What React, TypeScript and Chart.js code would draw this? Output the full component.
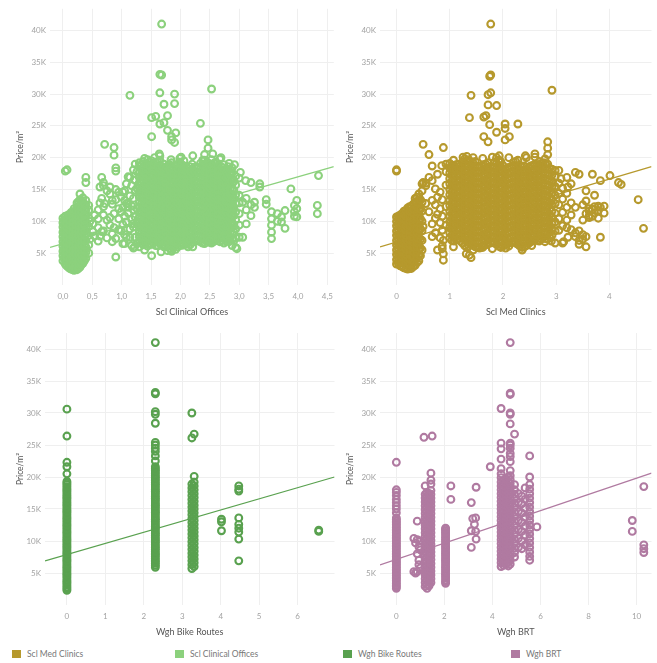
import { useEffect, useRef } from "react";
import { Chart, registerables } from "chart.js";

Chart.register(...registerables);

type Col = [number, number[]];

// ---------- DATA (price in thousands per m²) ----------
const clinicalOfficesColumns: Col[] = [
  [0.0, [3.8, 4.6, 5.3, 6.1, 6.8, 7.6, 8.3, 9.1, 9.8, 10.5]],
  [0.04, [3.3, 4.0, 4.8, 5.6, 6.3, 7.1, 7.8, 8.6, 9.3, 10.1, 10.8, 17.9]],
  [0.07, [18.1]],
  [0.09, [2.8, 3.5, 4.3, 5.1, 5.8, 6.6, 7.3, 8.1, 8.8, 9.6, 10.3, 11.0]],
  [0.14, [2.5, 3.2, 4.0, 4.7, 5.5, 6.2, 7.0, 7.8, 8.5, 9.2, 10.0, 10.7, 11.4]],
  [0.19, [2.3, 3.0, 3.8, 4.5, 5.3, 6.0, 6.8, 7.5, 8.3, 9.0, 9.8, 10.5, 11.3, 12.0]],
  [0.24, [2.4, 3.1, 3.9, 4.6, 5.4, 6.1, 6.9, 7.6, 8.4, 9.1, 9.9, 10.6, 11.4, 12.2, 12.9]],
  [0.29, [2.8, 3.6, 4.3, 5.1, 5.8, 6.6, 7.3, 8.1, 8.8, 9.6, 10.3, 11.1, 11.8, 12.6, 13.4, 14.3]],
  [0.34, [3.4, 4.2, 5.0, 5.8, 6.6, 7.4, 8.2, 9.0, 9.8, 10.6, 11.4, 12.2, 13.0, 13.7]],
  [0.39, [4.2, 5.1, 6.0, 7.0, 8.0, 9.0, 10.0, 10.9, 11.8, 12.6, 13.3, 16.1, 16.9]],
  [0.44, [5.0, 6.3, 7.8, 9.2, 10.5, 11.8, 12.5]],
  [0.46, [10.0, 7.2]],
  [0.51, [8.4, 9.6]],
  [0.54, [7.7, 11.0]],
  [0.6, [9.0, 11.8, 10.4, 6.9]],
  [0.63, [15.4, 7.7, 12.9]],
  [0.66, [16.9, 13.6, 8.4]],
  [0.69, [16.1, 15.6, 12.3, 8.5, 11.0]],
  [0.71, [22.1, 12.8]],
  [0.75, [10.2, 7.4, 14.8]],
  [0.8, [10.6, 15.4, 14.3, 9.4]],
  [0.84, [13.3, 12.7, 8.0, 6.8]],
  [0.87, [21.6, 20.4, 9.0, 11.2]],
  [0.9, [18.4, 17.9, 7.3, 4.4, 13.4, 15.0]],
  [0.95, [10.4, 12.0, 8.7, 14.6]],
  [0.99, [8.5, 13.9, 11.5]],
  [1.02, [9.5, 14.6, 6.5, 12.2]],
  [1.05, [13.3, 10.8, 7.9]],
  [1.08, [7.5, 12.8, 15.9, 9.9]],
  [1.11, [12.8, 11.3, 17.0]],
  [1.14, [16.9, 8.8, 14.0, 29.8]],
  [1.17, [15.6, 10.3, 12.4, 6.2]],
  [1.2, [11.8, 18.1, 13.6, 9.1, 5.8]],
  [1.23, [10.7, 7.5, 14.9, 16.5, 19.0]],
  [1.26, [6.5, 12.0, 17.8, 9.6, 15.2]],
  [1.3, [6.0, 6.9, 7.6, 8.4, 9.1, 9.9, 10.7, 11.4, 12.2, 13.0, 13.8, 14.5, 15.3, 16.1, 16.9, 17.7, 18.6, 19.2]],
  [1.37, [6.3, 7.1, 7.9, 8.6, 9.4, 10.2, 10.9, 11.7, 12.5, 13.2, 14.0, 14.8, 15.5, 16.3, 17.1, 17.8, 18.6, 19.4]],
  [1.44, [6.1, 6.8, 7.6, 8.3, 9.1, 9.9, 10.6, 11.4, 12.1, 12.9, 13.7, 14.4, 15.2, 16.0, 16.7, 17.5, 18.3, 19.0, 19.7]],
  [1.51, [4.6, 6.4, 7.2, 7.9, 8.7, 9.5, 10.2, 11.0, 11.8, 12.5, 13.3, 14.1, 14.8, 15.6, 16.4, 17.1, 17.9, 18.7, 19.5, 23.3, 26.3]],
  [1.58, [6.2, 7.0, 7.8, 8.5, 9.3, 10.0, 10.8, 11.6, 12.3, 13.1, 13.9, 14.6, 15.4, 16.2, 16.9, 17.7, 18.5, 19.3, 26.5]],
  [1.65, [6.5, 7.3, 8.0, 8.8, 9.6, 10.3, 11.1, 11.9, 12.6, 13.4, 14.2, 14.9, 15.7, 16.5, 17.2, 18.0, 18.8, 19.6, 20.3, 25.3, 30.2, 33.1]],
  [1.68, [33.0, 41.0]],
  [1.72, [6.0, 6.7, 7.5, 8.3, 9.0, 9.8, 10.6, 11.3, 12.1, 12.9, 13.6, 14.4, 15.2, 15.9, 16.7, 17.5, 18.2, 19.0, 25.5, 28.4]],
  [1.78, [5.4, 6.4, 7.2, 7.9, 8.7, 9.5, 10.2, 11.0, 11.8, 12.5, 13.3, 14.1, 14.8, 15.6, 16.4, 17.1, 17.9, 18.7, 24.3, 26.6]],
  [1.85, [5.3, 6.1, 6.9, 7.7, 8.4, 9.2, 10.0, 10.7, 11.5, 12.3, 13.0, 13.8, 14.6, 15.3, 16.1, 16.9, 17.6, 18.4, 19.2, 23.3, 22.8]],
  [1.9, [28.5, 30.0, 22.4]],
  [1.92, [5.6, 6.5, 7.3, 8.1, 8.8, 9.6, 10.4, 11.1, 11.9, 12.7, 13.4, 14.2, 15.0, 15.7, 16.5, 17.3, 18.0, 18.8, 23.9]],
  [1.99, [6.2, 7.0, 7.8, 8.6, 9.3, 10.1, 10.9, 11.6, 12.4, 13.2, 13.9, 14.7, 15.5, 16.2, 17.0, 17.8, 18.5, 19.3, 19.9]],
  [2.06, [6.4, 7.2, 8.0, 8.7, 9.5, 10.3, 11.0, 11.8, 12.6, 13.3, 14.1, 14.9, 15.6, 16.4, 17.2, 17.9, 18.7, 19.5]],
  [2.13, [6.0, 6.8, 7.6, 8.3, 9.1, 9.9, 10.6, 11.4, 12.2, 12.9, 13.7, 14.5, 15.2, 16.0, 16.8, 17.5, 18.3]],
  [2.2, [6.7, 7.5, 8.2, 9.0, 9.8, 10.5, 11.3, 12.1, 12.8, 13.6, 14.4, 15.1, 15.9, 16.7, 17.4, 18.2, 19.0]],
  [2.27, [7.0, 7.8, 8.5, 9.3, 10.1, 10.8, 11.6, 12.4, 13.1, 13.9, 14.7, 15.4, 16.2, 17.0, 17.7, 18.5]],
  [2.34, [6.8, 7.6, 8.4, 9.1, 9.9, 10.7, 11.4, 12.2, 13.0, 13.7, 14.5, 15.3, 16.0, 16.8, 17.6, 18.3, 19.1, 25.4]],
  [2.41, [6.5, 7.3, 8.1, 8.8, 9.6, 10.4, 11.1, 11.9, 12.7, 13.4, 14.2, 15.0, 15.7, 16.5, 17.3, 18.0, 18.8, 19.6, 20.5]],
  [2.47, [6.9, 7.7, 8.4, 9.2, 10.0, 10.7, 11.5, 12.3, 13.0, 13.8, 14.6, 15.3, 16.1, 16.9, 17.6, 18.4, 19.2, 21.5, 22.8]],
  [2.53, [6.6, 7.4, 8.2, 8.9, 9.7, 10.5, 11.2, 12.0, 12.8, 13.5, 14.3, 15.1, 15.8, 16.6, 17.4, 18.1, 18.9, 19.7, 30.8]],
  [2.6, [7.0, 7.8, 8.6, 9.3, 10.1, 10.9, 11.6, 12.4, 13.2, 13.9, 14.7, 15.5, 16.2, 17.0, 17.8, 18.5, 19.3]],
  [2.67, [6.8, 7.6, 8.3, 9.1, 9.9, 10.6, 11.4, 12.2, 12.9, 13.7, 14.5, 15.2, 16.0, 16.8, 17.5, 18.3, 19.8]],
  [2.74, [6.6, 7.4, 8.2, 8.9, 9.7, 10.5, 11.2, 12.0, 12.8, 13.5, 14.3, 15.1, 15.8, 16.6, 17.4, 18.1, 18.9]],
  [2.81, [7.1, 7.9, 8.7, 9.4, 10.2, 11.0, 11.7, 12.5, 13.3, 14.0, 14.8, 15.6, 16.3, 17.1, 17.9, 18.6]],
  [2.88, [6.2, 7.2, 8.1, 9.0, 9.8, 10.7, 11.6, 12.4, 13.3, 14.1, 15.0, 15.9, 16.7, 17.6, 18.4]],
  [2.94, [5.9, 7.4, 8.8, 10.2, 11.5, 12.8, 14.2, 15.7, 17.1]],
  [3.0, [7.5, 9.4, 11.2, 12.9, 14.1, 16.8]],
  [3.06, [7.5, 13.0]],
  [3.12, [11.8, 13.6, 9.6]],
  [3.2, [12.6, 10.9, 16.1]],
  [3.26, [13.0, 12.2]],
  [3.35, [15.9, 15.4]],
  [3.46, [13.4, 12.7]],
  [3.55, [11.5, 10.4, 9.4, 8.3, 7.3]],
  [3.65, [11.2, 10.0]],
  [3.72, [10.7, 9.9]],
  [3.78, [11.7, 8.9]],
  [3.88, [15.1]],
  [3.94, [12.5, 11.5, 10.8]],
  [3.98, [13.3, 10.7, 12.0]],
  [4.33, [12.5, 11.2]],
  [4.35, [17.2]],
];

// the packed cores of the three clusters, read between the columns above
const clinicalOfficesCoreColumns: Col[] = [
  [0.02, [4.2, 5.0, 5.7, 6.5, 7.2, 8.0, 8.7, 9.5, 10.2]],
  [0.065, [3.0, 3.7, 4.4, 5.2, 5.9, 6.7, 7.5, 8.2, 9.0, 9.7, 10.4]],
  [0.115, [2.6, 3.4, 4.1, 4.9, 5.6, 6.4, 7.1, 7.9, 8.6, 9.4, 10.1, 10.9]],
  [0.165, [2.4, 3.1, 3.9, 4.6, 5.4, 6.1, 6.9, 7.6, 8.4, 9.1, 9.9, 10.6, 11.5]],
  [0.215, [2.6, 3.4, 4.1, 4.9, 5.6, 6.4, 7.2, 7.9, 8.7, 9.4, 10.2, 10.9, 11.7]],
  [0.265, [2.6, 3.3, 4.0, 4.8, 5.5, 6.3, 7.0, 7.8, 8.5, 9.3, 10.0, 10.8, 11.5, 12.3, 13.1]],
  [0.315, [3.2, 4.0, 4.7, 5.5, 6.2, 7.0, 7.7, 8.5, 9.2, 10.0, 10.7, 11.5, 12.2, 13.0]],
  [0.365, [3.8, 4.6, 5.4, 6.2, 7.0, 7.8, 8.6, 9.4, 10.2, 11.0, 11.8, 12.6]],
  [1.335, [6.6, 7.4, 8.2, 9.0, 9.7, 10.5, 11.3, 12.0, 12.8, 13.6, 14.3, 15.1, 15.9, 16.6, 17.4, 18.2, 18.9]],
  [1.405, [6.7, 7.5, 8.3, 9.0, 9.8, 10.6, 11.3, 12.1, 12.9, 13.6, 14.4, 15.2, 15.9, 16.7, 17.5, 18.2, 19.0]],
  [1.475, [6.4, 7.2, 8.0, 8.7, 9.5, 10.3, 11.0, 11.8, 12.6, 13.3, 14.1, 14.9, 15.6, 16.4, 17.2, 17.9, 18.7, 19.3]],
  [1.545, [6.6, 7.4, 8.2, 8.9, 9.7, 10.5, 11.2, 12.0, 12.8, 13.5, 14.3, 15.1, 15.8, 16.6, 17.4, 18.1, 18.9]],
  [1.615, [6.2, 7.0, 7.8, 8.5, 9.3, 10.1, 10.8, 11.6, 12.4, 13.1, 13.9, 14.7, 15.4, 16.2, 17.0, 17.7, 18.5, 19.3]],
  [1.685, [6.3, 7.1, 7.9, 8.6, 9.4, 10.2, 10.9, 11.7, 12.5, 13.2, 14.0, 14.8, 15.5, 16.3, 17.1, 17.8, 18.6]],
  [1.75, [6.0, 6.8, 7.6, 8.3, 9.1, 9.9, 10.6, 11.4, 12.2, 12.9, 13.7, 14.5, 15.2, 16.0, 16.8, 17.5, 18.3]],
  [1.815, [5.8, 6.6, 7.4, 8.1, 8.9, 9.7, 10.4, 11.2, 12.0, 12.7, 13.5, 14.3, 15.0, 15.8, 16.6, 17.3, 18.1, 18.9]],
  [1.885, [6.0, 6.8, 7.5, 8.3, 9.1, 9.8, 10.6, 11.4, 12.1, 12.9, 13.7, 14.4, 15.2, 16.0, 16.7, 17.5, 18.3]],
  [1.955, [6.0, 6.8, 7.6, 8.3, 9.1, 9.9, 10.6, 11.4, 12.2, 12.9, 13.7, 14.5, 15.2, 16.0, 16.8, 17.5, 18.3, 19.0]],
  [2.025, [6.6, 7.4, 8.2, 9.0, 9.7, 10.5, 11.3, 12.0, 12.8, 13.6, 14.3, 15.1, 15.9, 16.6, 17.4, 18.2, 18.9]],
  [2.095, [6.4, 7.2, 7.9, 8.7, 9.5, 10.2, 11.0, 11.8, 12.5, 13.3, 14.1, 14.8, 15.6, 16.4, 17.1, 17.9, 18.6]],
  [2.165, [6.3, 7.1, 7.9, 8.6, 9.4, 10.2, 10.9, 11.7, 12.5, 13.2, 14.0, 14.8, 15.5, 16.3, 17.1, 17.8, 18.6]],
  [2.235, [7.0, 7.8, 8.6, 9.3, 10.1, 10.9, 11.6, 12.4, 13.2, 13.9, 14.7, 15.5, 16.2, 17.0, 17.8, 18.5]],
  [2.305, [6.9, 7.7, 8.5, 9.2, 10.0, 10.8, 11.5, 12.3, 13.1, 13.8, 14.6, 15.4, 16.1, 16.9, 17.7, 18.4]],
  [2.375, [6.6, 7.4, 8.2, 8.9, 9.7, 10.5, 11.2, 12.0, 12.8, 13.5, 14.3, 15.1, 15.8, 16.6, 17.4, 18.1, 18.9]],
  [2.44, [6.9, 7.7, 8.5, 9.2, 10.0, 10.8, 11.5, 12.3, 13.1, 13.8, 14.6, 15.4, 16.1, 16.9, 17.7, 18.4, 19.2]],
  [2.5, [6.7, 7.5, 8.3, 9.0, 9.8, 10.6, 11.3, 12.1, 12.9, 13.6, 14.4, 15.2, 15.9, 16.7, 17.5, 18.2, 19.0]],
  [2.565, [6.8, 7.6, 8.4, 9.1, 9.9, 10.7, 11.4, 12.2, 13.0, 13.7, 14.5, 15.3, 16.0, 16.8, 17.6, 18.3, 19.1]],
  [2.635, [7.2, 8.0, 8.8, 9.5, 10.3, 11.1, 11.8, 12.6, 13.4, 14.1, 14.9, 15.7, 16.4, 17.2, 18.0, 18.7]],
  [2.705, [7.0, 7.8, 8.6, 9.3, 10.1, 10.9, 11.6, 12.4, 13.2, 13.9, 14.7, 15.5, 16.2, 17.0, 17.8, 18.5]],
  [2.775, [6.9, 7.7, 8.5, 9.2, 10.0, 10.8, 11.5, 12.3, 13.1, 13.8, 14.6, 15.4, 16.1, 16.9, 17.7]],
  [2.845, [7.4, 8.2, 9.0, 9.7, 10.5, 11.3, 12.0, 12.8, 13.6, 14.3, 15.1, 15.9, 16.6, 17.4, 18.2]],
  [2.91, [7.0, 8.4, 9.5, 10.9, 12.1, 13.6, 14.9, 16.3]],
];

// loose circles along the ragged rims of the clusters
const clinicalOfficesEdgeColumns: Col[] = [
  [1.05, [14.8, 6.5]],
  [1.11, [12.2]],
  [1.14, [7.5]],
  [1.19, [9.6]],
  [1.22, [6.0]],
  [1.39, [19.9, 5.5]],
  [1.56, [20.0]],
  [1.64, [20.6]],
  [1.67, [5.2]],
  [1.84, [5.5, 19.7]],
  [2.01, [20.1]],
  [2.04, [6.25]],
  [2.21, [20.3, 6.0]],
  [2.38, [19.6]],
  [2.49, [7.0]],
  [2.55, [20.6]],
  [2.69, [20.0]],
  [2.83, [19.1, 6.8]],
  [2.92, [18.9]],
  [2.96, [5.7]],
  [3.02, [17.7]],
  [3.11, [16.4]],
];

const medClinicsColumns: Col[] = [
  [0.0, [3.3, 4.0, 4.8, 5.5, 6.3, 7.0, 7.8, 8.5, 9.3, 10.0, 10.7, 17.9, 18.1]],
  [0.07, [3.0, 3.7, 4.5, 5.2, 6.0, 6.7, 7.5, 8.2, 9.0, 9.7, 10.5, 11.0]],
  [0.14, [2.7, 3.4, 4.2, 4.9, 5.7, 6.4, 7.2, 7.9, 8.7, 9.4, 10.2, 10.9, 11.6]],
  [0.21, [2.5, 3.2, 4.0, 4.7, 5.5, 6.2, 7.0, 7.7, 8.5, 9.2, 10.0, 10.7, 11.5, 12.1]],
  [0.28, [2.6, 3.4, 4.1, 4.9, 5.6, 6.4, 7.1, 7.9, 8.6, 9.4, 10.1, 10.9, 11.6, 12.4]],
  [0.35, [3.1, 3.9, 4.7, 5.4, 6.2, 6.9, 7.7, 8.4, 9.2, 9.9, 10.7, 11.4, 12.2, 13.0, 13.6]],
  [0.42, [3.8, 4.7, 5.6, 6.5, 7.4, 8.3, 9.2, 10.1, 11.0, 11.9, 12.7, 13.4, 14.3]],
  [0.48, [5.5, 7.0, 8.5, 10.0, 11.6, 13.0, 14.8, 15.9]],
  [0.5, [22.1, 16.1, 9.2]],
  [0.55, [15.6, 16.0, 12.8]],
  [0.61, [20.5, 16.9, 11.5]],
  [0.67, [18.7, 16.4, 13.3, 9.6, 7.6]],
  [0.73, [15.1, 12.6, 10.5, 8.2]],
  [0.77, [17.4, 5.5, 13.8, 11.1]],
  [0.82, [14.6, 7.4, 9.8, 12.0]],
  [0.86, [8.6, 6.2, 5.7, 10.8, 13.4]],
  [0.88, [21.6, 7.0, 4.9, 3.9]],
  [0.93, [19.0, 17.8, 15.7, 12.3, 9.4]],
  [1.0, [7.4, 8.2, 9.1, 9.9, 10.8, 11.6, 12.5, 13.3, 14.2, 15.0, 15.9, 16.7, 17.6, 18.4, 19.1]],
  [1.08, [6.9, 7.7, 8.6, 9.4, 10.3, 11.1, 12.0, 12.8, 13.7, 14.5, 15.4, 16.2, 17.1, 17.9, 18.8]],
  [1.16, [7.2, 8.0, 8.9, 9.7, 10.6, 11.4, 12.3, 13.1, 14.0, 14.8, 15.7, 16.5, 17.4, 18.2, 19.0]],
  [1.24, [6.6, 7.5, 8.3, 9.2, 10.0, 10.9, 11.7, 12.6, 13.4, 14.3, 15.1, 16.0, 16.8, 17.7, 18.5, 19.3]],
  [1.32, [5.9, 6.8, 7.6, 8.5, 9.3, 10.2, 11.0, 11.9, 12.7, 13.6, 14.4, 15.3, 16.1, 17.0, 17.8, 18.7, 19.5, 20.2]],
  [1.37, [26.3, 4.7]],
  [1.4, [4.3, 6.3, 7.1, 8.0, 8.8, 9.7, 10.5, 11.4, 12.2, 13.1, 13.9, 14.8, 15.6, 16.5, 17.3, 18.2, 19.0, 29.8]],
  [1.48, [6.0, 6.8, 7.7, 8.5, 9.4, 10.2, 11.1, 11.9, 12.8, 13.6, 14.5, 15.3, 16.2, 17.0, 17.9, 18.7, 19.4]],
  [1.56, [5.8, 6.6, 7.5, 8.3, 9.2, 10.0, 10.9, 11.7, 12.6, 13.4, 14.3, 15.1, 16.0, 16.8, 17.7, 18.5]],
  [1.64, [6.2, 7.0, 7.9, 8.7, 9.6, 10.4, 11.3, 12.1, 13.0, 13.8, 14.7, 15.5, 16.4, 17.2, 18.1, 18.9, 23.3, 26.4]],
  [1.68, [26.6]],
  [1.72, [6.5, 7.3, 8.2, 9.0, 9.9, 10.7, 11.6, 12.4, 13.3, 14.1, 15.0, 15.8, 16.7, 17.5, 18.4, 19.2, 22.5, 28.3, 29.9]],
  [1.75, [25.2, 32.8]],
  [1.77, [41.0, 33.0, 30.2]],
  [1.8, [6.8, 7.6, 8.5, 9.3, 10.2, 11.0, 11.9, 12.7, 13.6, 14.4, 15.3, 16.1, 17.0, 17.8, 18.6]],
  [1.88, [6.4, 7.2, 8.1, 8.9, 9.8, 10.6, 11.5, 12.3, 13.2, 14.0, 14.9, 15.7, 16.6, 17.4, 18.3, 19.1, 20.0, 24.0, 28.2]],
  [1.96, [5.9, 6.7, 7.6, 8.4, 9.3, 10.1, 11.0, 11.8, 12.7, 13.5, 14.4, 15.2, 16.1, 16.9, 17.8, 18.6, 19.4]],
  [2.04, [6.3, 7.1, 8.0, 8.8, 9.7, 10.5, 11.4, 12.2, 13.1, 13.9, 14.8, 15.6, 16.5, 17.3, 18.2, 22.8, 24.6, 25.3]],
  [2.12, [6.6, 7.4, 8.3, 9.1, 10.0, 10.8, 11.7, 12.5, 13.4, 14.2, 15.1, 15.9, 16.8, 17.6, 18.5, 23.3]],
  [2.2, [6.9, 7.7, 8.6, 9.4, 10.3, 11.1, 12.0, 12.8, 13.7, 14.5, 15.4, 16.2, 17.1, 17.9, 18.8, 19.3]],
  [2.28, [6.4, 7.2, 8.1, 8.9, 9.8, 10.6, 11.5, 12.3, 13.2, 14.0, 14.9, 15.7, 16.6, 17.4, 18.3, 19.6, 25.3]],
  [2.36, [5.9, 6.7, 7.6, 8.4, 9.3, 10.1, 11.0, 11.8, 12.7, 13.5, 14.4, 15.2, 16.1, 16.9, 17.8, 18.6]],
  [2.44, [6.2, 7.0, 7.9, 8.7, 9.6, 10.4, 11.3, 12.1, 13.0, 13.8, 14.7, 15.5, 16.4, 17.2, 18.1, 20.0]],
  [2.52, [6.8, 7.6, 8.5, 9.3, 10.2, 11.0, 11.9, 12.7, 13.6, 14.4, 15.3, 16.1, 17.0, 17.8, 18.7]],
  [2.6, [7.1, 7.9, 8.8, 9.6, 10.5, 11.3, 12.2, 13.0, 13.9, 14.7, 15.6, 16.4, 17.3, 18.1, 19.0, 20.1]],
  [2.68, [6.9, 7.7, 8.6, 9.4, 10.3, 11.1, 12.0, 12.8, 13.7, 14.5, 15.4, 16.2, 17.1, 17.9, 18.8, 19.4]],
  [2.76, [7.5, 8.3, 9.2, 10.0, 10.9, 11.7, 12.6, 13.4, 14.3, 15.1, 16.0, 16.8, 17.7, 18.5, 19.2]],
  [2.84, [7.2, 8.0, 8.9, 9.7, 10.6, 11.4, 12.3, 13.1, 14.0, 14.8, 15.7, 16.5, 17.4, 18.2, 19.0, 20.5, 21.5, 22.5]],
  [2.92, [7.8, 8.8, 9.7, 10.7, 11.6, 12.6, 13.5, 14.5, 15.4, 16.4, 17.3, 18.2, 30.6]],
  [2.98, [6.6, 8.5, 9.9, 11.3, 12.8, 14.1, 15.5, 17.0, 18.0]],
  [3.05, [18.0, 8.6, 10.4, 12.6, 14.4, 16.0]],
  [3.12, [9.3, 11.4, 13.5, 15.2, 6.6]],
  [3.2, [10.2, 12.2, 14.4, 9.0, 16.9]],
  [3.28, [15.9, 12.9, 8.7, 11.0]],
  [3.36, [17.7, 7.6, 8.2, 12.2]],
  [3.43, [17.4, 7.0, 8.5, 6.4]],
  [3.5, [7.9, 7.2, 12.6, 10.2]],
  [3.56, [14.8, 13.2, 11.2, 6.0, 7.6]],
  [3.62, [10.6, 12.0, 10.9, 11.6]],
  [3.68, [17.4, 11.9, 10.8]],
  [3.72, [14.1, 11.3, 12.3]],
  [3.79, [12.4, 10.5, 11.7]],
  [3.83, [16.4, 7.5, 12.2]],
  [3.9, [11.3, 12.4]],
  [4.01, [17.2]],
  [4.17, [16.1]],
  [4.22, [15.8]],
  [4.54, [13.4]],
  [4.64, [8.9]],
];

const medClinicsCoreColumns: Col[] = [
  [0.035, [3.4, 4.2, 4.9, 5.7, 6.4, 7.2, 7.9, 8.7, 9.4, 10.2, 10.8]],
  [0.105, [2.9, 3.6, 4.4, 5.1, 5.9, 6.6, 7.4, 8.1, 8.9, 9.6, 10.4, 11.2]],
  [0.175, [2.6, 3.3, 4.1, 4.8, 5.6, 6.3, 7.1, 7.8, 8.6, 9.3, 10.1, 10.8, 11.7]],
  [0.245, [2.6, 3.3, 4.1, 4.8, 5.6, 6.3, 7.1, 7.8, 8.6, 9.3, 10.1, 10.8, 11.6, 12.3]],
  [0.315, [2.9, 3.7, 4.4, 5.2, 5.9, 6.7, 7.4, 8.2, 8.9, 9.7, 10.4, 11.2, 11.9, 12.7]],
  [0.385, [3.5, 4.3, 5.1, 5.9, 6.6, 7.4, 8.2, 9.0, 9.8, 10.6, 11.4, 12.2, 13.0, 13.8]],
  [0.45, [4.6, 5.8, 7.2, 8.8, 10.4, 11.9, 13.4]],
  [1.04, [7.0, 7.8, 8.7, 9.5, 10.4, 11.2, 12.1, 12.9, 13.8, 14.6, 15.5, 16.3, 17.2, 18.0, 18.8]],
  [1.12, [7.1, 7.9, 8.8, 9.6, 10.5, 11.3, 12.2, 13.0, 13.9, 14.7, 15.6, 16.4, 17.3, 18.1, 18.9]],
  [1.2, [6.9, 7.7, 8.6, 9.4, 10.3, 11.1, 12.0, 12.8, 13.7, 14.5, 15.4, 16.2, 17.1, 17.9, 18.7]],
  [1.28, [6.2, 7.1, 7.9, 8.8, 9.6, 10.5, 11.3, 12.2, 13.0, 13.9, 14.7, 15.6, 16.4, 17.3, 18.1, 18.9, 19.8]],
  [1.36, [6.1, 6.9, 7.8, 8.6, 9.5, 10.3, 11.2, 12.0, 12.9, 13.7, 14.6, 15.4, 16.3, 17.1, 18.0, 18.8, 19.7]],
  [1.44, [6.6, 7.4, 8.3, 9.1, 10.0, 10.8, 11.7, 12.5, 13.4, 14.2, 15.1, 15.9, 16.8, 17.6, 18.5, 19.2]],
  [1.52, [5.9, 6.7, 7.6, 8.4, 9.3, 10.1, 11.0, 11.8, 12.7, 13.5, 14.4, 15.2, 16.1, 16.9, 17.8, 18.6]],
  [1.6, [6.0, 6.8, 7.7, 8.5, 9.4, 10.2, 11.1, 11.9, 12.8, 13.6, 14.5, 15.3, 16.2, 17.0, 17.9, 18.7]],
  [1.68, [6.3, 7.1, 8.0, 8.8, 9.7, 10.5, 11.4, 12.2, 13.1, 13.9, 14.8, 15.6, 16.5, 17.3, 18.2, 19.0]],
  [1.76, [6.6, 7.4, 8.3, 9.1, 10.0, 10.8, 11.7, 12.5, 13.4, 14.2, 15.1, 15.9, 16.8, 17.6, 18.5]],
  [1.84, [6.6, 7.4, 8.3, 9.1, 10.0, 10.8, 11.7, 12.5, 13.4, 14.2, 15.1, 15.9, 16.8, 17.6, 18.5, 19.3]],
  [1.92, [6.1, 6.9, 7.8, 8.6, 9.5, 10.3, 11.2, 12.0, 12.9, 13.7, 14.6, 15.4, 16.3, 17.1, 18.0, 18.8, 19.6]],
  [2.0, [6.1, 6.9, 7.8, 8.6, 9.5, 10.3, 11.2, 12.0, 12.9, 13.7, 14.6, 15.4, 16.3, 17.1, 18.0, 18.8]],
  [2.08, [6.5, 7.3, 8.2, 9.0, 9.9, 10.7, 11.6, 12.4, 13.3, 14.1, 15.0, 15.8, 16.7, 17.5, 18.3]],
  [2.16, [6.7, 7.5, 8.4, 9.2, 10.1, 10.9, 11.8, 12.6, 13.5, 14.3, 15.2, 16.0, 16.9, 17.7, 18.6]],
  [2.24, [6.6, 7.4, 8.3, 9.1, 10.0, 10.8, 11.7, 12.5, 13.4, 14.2, 15.1, 15.9, 16.8, 17.6, 18.5, 19.4]],
  [2.32, [6.1, 6.9, 7.8, 8.6, 9.5, 10.3, 11.2, 12.0, 12.9, 13.7, 14.6, 15.4, 16.3, 17.1, 18.0, 18.8]],
  [2.4, [6.0, 6.8, 7.7, 8.5, 9.4, 10.2, 11.1, 11.9, 12.8, 13.6, 14.5, 15.3, 16.2, 17.0, 17.9, 18.7]],
  [2.48, [6.5, 7.3, 8.2, 9.0, 9.9, 10.7, 11.6, 12.4, 13.3, 14.1, 15.0, 15.8, 16.7, 17.5, 18.4]],
  [2.56, [6.9, 7.7, 8.6, 9.4, 10.3, 11.1, 12.0, 12.8, 13.7, 14.5, 15.4, 16.2, 17.1, 17.9, 18.8]],
  [2.64, [7.0, 7.8, 8.7, 9.5, 10.4, 11.2, 12.1, 12.9, 13.8, 14.6, 15.5, 16.3, 17.2, 18.0, 18.9]],
  [2.72, [7.2, 8.0, 8.9, 9.7, 10.6, 11.4, 12.3, 13.1, 14.0, 14.8, 15.7, 16.5, 17.4, 18.2, 19.1]],
  [2.8, [7.3, 8.1, 9.0, 9.8, 10.7, 11.5, 12.4, 13.2, 14.1, 14.9, 15.8, 16.6, 17.5, 18.3, 19.1]],
  [2.88, [7.5, 8.4, 9.3, 10.2, 11.1, 12.0, 12.9, 13.8, 14.7, 15.6, 16.5, 17.4, 18.3]],
];

const medClinicsEdgeColumns: Col[] = [
  [0.85, [18.75]],
  [1.07, [19.6, 6.0]],
  [1.25, [20.1]],
  [1.31, [4.9]],
  [1.44, [20.0, 5.5]],
  [1.62, [19.9, 5.9]],
  [1.8, [20.1, 5.7]],
  [1.93, [20.3]],
  [2.05, [5.8]],
  [2.11, [20.0, 6.1]],
  [2.36, [5.5]],
  [2.42, [20.3]],
  [2.54, [6.2]],
  [2.6, [20.6]],
  [2.79, [19.8, 6.8]],
  [2.91, [6.9]],
  [3.09, [16.7]],
  [3.14, [6.8]],
  [3.22, [15.4, 7.5]],
];

const bikeRoutesColumns: Col[] = [
  [0.0, [2.3, 2.8, 3.4, 3.9, 4.5, 5.0, 5.6, 6.1, 6.7, 7.2, 7.8, 8.3, 8.9, 9.4, 10.0, 10.5, 11.1, 11.6, 12.2, 12.7, 13.3, 13.8, 14.4, 14.9, 15.5, 16.0, 16.6, 17.1, 17.7, 18.2, 18.8, 19.3, 20.5, 21.6, 22.3, 26.4, 30.6]],
  [0.0, [2.55, 3.1, 3.65, 4.2, 4.75, 5.3, 5.85, 6.4, 6.95, 7.5, 8.05, 8.6, 9.15, 9.7, 10.25, 10.8, 11.35, 11.9, 12.45, 13.0, 13.55, 14.1, 14.65, 15.2, 15.75, 16.3, 16.85, 17.4, 17.95, 18.5, 19.05]],
  [2.3, [5.9, 6.5, 7.0, 7.6, 8.1, 8.7, 9.2, 9.8, 10.3, 10.9, 11.4, 12.0, 12.5, 13.1, 13.6, 14.2, 14.7, 15.3, 15.8, 16.4, 16.9, 17.5, 18.0, 18.6, 19.1, 19.7, 20.2, 20.8, 21.3, 21.6, 22.5, 23.3, 24.0, 24.5, 25.0, 25.4, 28.4, 29.8, 30.2, 33.0, 33.2, 41.0]],
  [2.3, [6.2, 6.75, 7.3, 7.85, 8.4, 8.95, 9.5, 10.05, 10.6, 11.15, 11.7, 12.25, 12.8, 13.35, 13.9, 14.45, 15.0, 15.55, 16.1, 16.65, 17.2, 17.75, 18.3, 18.85, 19.4, 19.95, 20.5, 21.05]],
  [3.25, [5.7, 6.3, 6.9, 7.5, 8.1, 8.7, 9.3, 9.9, 10.5, 11.1, 11.7, 12.3, 12.9, 13.5, 14.1, 14.7, 15.3, 15.9, 16.5, 17.1, 17.7, 18.3, 18.9, 26.1, 30.0]],
  [3.31, [6.0, 6.6, 7.2, 7.8, 8.4, 9.0, 9.6, 10.2, 10.8, 11.4, 12.0, 12.6, 13.2, 13.8, 14.4, 15.0, 15.6, 16.2, 16.8, 17.4, 18.0, 18.6, 19.2, 20.1, 26.7]],
  [4.02, [13.4, 13.0, 11.6]],
  [4.47, [18.6, 18.1, 17.8, 13.6, 12.6, 12.0, 11.4, 10.3, 6.9]],
  [6.55, [11.7, 11.5]],
];

const brtColumns: Col[] = [
  [0.0, [2.6, 3.1, 3.6, 4.1, 4.6, 5.1, 5.6, 6.1, 6.6, 7.1, 7.6, 8.1, 8.6, 9.1, 9.6, 10.1, 10.6, 11.1, 11.6, 12.1, 12.6, 13.1, 13.6, 14.4, 15.0, 15.5, 16.0, 16.5, 17.1, 17.6, 18.0, 22.3]],
  [0.0, [2.85, 3.35, 3.85, 4.35, 4.85, 5.35, 5.85, 6.35, 6.85, 7.35, 7.85, 8.35, 8.85, 9.35, 9.85, 10.35, 10.85, 11.35, 11.85, 12.35, 12.85, 13.35]],
  [0.73, [10.4, 5.2]],
  [0.8, [9.7, 5.0]],
  [0.87, [10.2, 5.2, 13.1, 8.0]],
  [0.94, [9.1, 7.0, 6.3]],
  [1.0, [8.6, 10.0, 5.8]],
  [1.15, [26.2]],
  [1.2, [2.9, 3.5, 4.1, 4.7, 5.3, 5.9, 6.5, 7.1, 7.7, 8.3, 8.9, 9.5, 10.1, 10.7, 11.3, 11.9, 12.5, 13.1, 13.7, 14.3, 14.9, 15.5, 16.1, 16.7, 17.3, 18.6]],
  [1.28, [2.6, 3.2, 3.8, 4.4, 5.0, 5.6, 6.2, 6.8, 7.4, 8.0, 8.6, 9.2, 9.8, 10.4, 11.0, 11.6, 12.2, 12.8, 13.4, 14.0, 14.6, 15.2, 15.8, 16.4, 17.0, 17.6]],
  [1.36, [3.0, 3.6, 4.2, 4.8, 5.4, 6.0, 6.6, 7.2, 7.8, 8.4, 9.0, 9.6, 10.2, 10.8, 11.4, 12.0, 12.6, 13.2, 13.8, 14.4, 15.0, 15.6, 16.2, 16.8, 17.4]],
  [1.44, [3.5, 4.1, 4.7, 5.3, 5.9, 6.5, 7.1, 7.7, 8.3, 8.9, 9.5, 10.1, 10.7, 11.3, 11.9, 12.5, 13.1, 13.7, 14.3, 14.9, 15.5, 16.1, 16.7, 17.3, 17.9, 18.9, 19.5, 20.6]],
  [1.49, [26.4]],
  [2.05, [3.4, 3.9, 4.5, 5.0, 5.6, 6.1, 6.7, 7.2, 7.8, 8.3, 8.9, 9.4, 10.0, 10.5, 11.1, 11.6, 12.0]],
  [2.05, [3.65, 4.2, 4.75, 5.3, 5.85, 6.4, 6.95, 7.5, 8.05, 8.6, 9.15, 9.7, 10.25, 10.8, 11.35, 11.85]],
  [2.27, [18.6, 16.5]],
  [3.12, [16.0, 11.6, 9.0]],
  [3.18, [13.5]],
  [3.25, [12.6]],
  [3.3, [13.6, 11.5]],
  [3.32, [10.3, 18.4]],
  [3.91, [21.6]],
  [4.36, [6.0, 6.6, 7.2, 7.8, 8.4, 9.0, 9.6, 10.2, 10.8, 11.4, 12.0, 12.6, 13.2, 13.8, 14.4, 15.0, 15.6, 16.2, 16.8, 17.4, 18.0, 18.6, 19.2, 19.9, 20.5, 21.3, 22.8, 24.4, 25.3, 30.7]],
  [4.46, [6.2, 6.8, 7.4, 8.0, 8.6, 9.2, 9.8, 10.4, 11.0, 11.6, 12.2, 12.8, 13.4, 14.0, 14.6, 15.2, 15.8, 16.4, 17.0, 17.6, 18.2, 18.8, 19.4]],
  [4.56, [6.4, 7.0, 7.6, 8.2, 8.8, 9.4, 10.0, 10.6, 11.2, 11.8, 12.4, 13.0, 13.6, 14.2, 14.8, 15.4, 16.0, 16.6, 17.2, 17.8, 18.4, 19.0, 19.7]],
  [4.66, [6.1, 6.7, 7.3, 7.9, 8.5, 9.1, 9.7, 10.3, 10.9, 11.5, 12.1, 12.7, 13.3, 13.9, 14.5, 15.1, 15.7, 16.3, 16.9, 17.5, 18.1, 18.7, 19.3, 20.0]],
  [4.74, [6.4, 7.0, 7.6, 8.2, 8.8, 9.4, 10.0, 10.6, 11.2, 11.8, 12.4, 13.0, 13.6, 14.2, 14.8, 15.4, 16.0, 16.6, 17.2, 17.8, 18.4, 19.0, 19.6, 20.2, 21.0, 22.4, 23.2, 23.7, 24.5, 25.0, 25.3, 28.3, 29.8, 30.0, 32.9, 33.1, 41.0]],
  [4.92, [7.5, 8.2, 8.9, 9.6, 10.3, 11.0, 11.7, 12.4, 13.1, 13.8, 14.5, 15.2, 15.9, 16.6, 17.3, 18.0, 18.8, 26.7]],
  [5.08, [9.0, 10.4, 11.8, 13.2, 14.6, 16.0, 17.4]],
  [5.22, [8.8, 10.0, 11.5, 12.9, 14.4, 15.8, 17.0]],
  [5.36, [9.4, 10.9, 12.3, 13.7, 15.1, 16.5, 18.3]],
  [5.55, [7.0, 7.6, 8.3, 9.0, 9.7, 10.4, 11.1, 11.8, 12.5, 13.2, 13.9, 14.6, 15.3, 16.0, 16.7, 17.4, 18.1, 18.8, 20.0, 23.3]],
  [5.85, [12.2]],
  [9.82, [13.2, 11.5]],
  [10.3, [9.4, 8.8, 8.2, 18.5]],
];

// trend lines (x at the axis ends, y in K)
const clinicalOfficesTrendX = [-0.22, 4.61];
const clinicalOfficesTrendY = [5.9, 18.6];
const medClinicsTrendX = [-0.31, 4.79];
const medClinicsTrendY = [6.0, 18.6];
const bikeRoutesTrendX = [-0.57, 6.96];
const bikeRoutesTrendY = [6.9, 20.0];
const brtTrendX = [-0.68, 10.62];
const brtTrendY = [6.25, 20.6];

// ticks
const clinicalOfficesTicks = [0, 0.5, 1, 1.5, 2, 2.5, 3, 3.5, 4, 4.5];
const clinicalOfficesTickLabels = ["0,0", "0,5", "1,0", "1,5", "2,0", "2,5", "3,0", "3,5", "4,0", "4,5"];
const medClinicsTicks = [0, 1, 2, 3, 4];
const medClinicsTickLabels = ["0", "1", "2", "3", "4"];
const bikeRoutesTicks = [0, 1, 2, 3, 4, 5, 6];
const bikeRoutesTickLabels = ["0", "1", "2", "3", "4", "5", "6"];
const brtTicks = [0, 2, 4, 6, 8, 10];
const brtTickLabels = ["0", "2", "4", "6", "8", "10"];
const priceTicks = [5, 10, 15, 20, 25, 30, 35, 40];
const priceTickLabels = ["5K", "10K", "15K", "20K", "25K", "30K", "35K", "40K"];

const legendLabels = ["Scl Med Clinics", "Scl Clinical Offices", "Wgh Bike Routes", "Wgh BRT"];

// ---------- STYLE ----------
const FONT = "Lato, 'Open Sans', sans-serif";
const C_GOLD = "#b6992d";
const C_LIGHTGREEN = "#8cd17d";
const C_GREEN = "#59a14f";
const C_MAUVE = "#b07aa1";
const legendColors = [C_GOLD, C_LIGHTGREEN, C_GREEN, C_MAUVE];
const legendLefts = [12, 175, 343, 511];

type PanelProps = {
  left: number;
  top: number;
  width: number;
  height: number;
  padTop: number;
  padRight: number;
  yWidth: number;
  columns: Col[];
  trendX: number[];
  trendY: number[];
  color: string;
  xMin: number;
  xMax: number;
  yMax: number;
  xTicks: number[];
  xLabels: string[];
  title: string;
};

function Panel(p: PanelProps) {
  const ref = useRef<HTMLCanvasElement | null>(null);
  useEffect(() => {
    const points = p.columns.flatMap(([x, ys]) => ys.map((y) => ({ x, y })));
    const trend = p.trendX.map((x, i) => ({ x, y: p.trendY[i] }));
    const chart = new Chart(ref.current as HTMLCanvasElement, {
      type: "scatter",
      data: {
        datasets: [
          {
            data: points,
            pointRadius: 3.4,
            pointHoverRadius: 3.4,
            borderWidth: 2.1,
            borderColor: p.color,
            backgroundColor: "rgba(255,255,255,0)",
            pointBackgroundColor: "rgba(255,255,255,0)",
          },
          {
            data: trend,
            showLine: true,
            pointRadius: 0,
            borderWidth: 1.3,
            borderColor: p.color,
            backgroundColor: p.color,
          } as any,
        ],
      },
      options: {
        animation: false,
        responsive: false,
        maintainAspectRatio: false,
        events: [],
        layout: { padding: { top: p.padTop, right: p.padRight, left: 0, bottom: 0 } },
        plugins: { legend: { display: false }, tooltip: { enabled: false } },
        scales: {
          x: {
            type: "linear",
            min: p.xMin,
            max: p.xMax,
            afterBuildTicks: (s: any) => {
              s.ticks = p.xTicks.map((v) => ({ value: v }));
            },
            afterFit: (s: any) => {
              s.height = 35;
            },
            ticks: {
              callback: (_v: any, i: number) => p.xLabels[i],
              color: "#a3a3a3",
              font: { family: FONT, size: 8 },
              padding: 7,
              maxRotation: 0,
              autoSkip: false,
            },
            grid: { color: "#efefef", drawTicks: false },
            border: { display: false },
            title: {
              display: true,
              text: p.title,
              color: "#555555",
              font: { family: FONT, size: 9 },
              padding: { top: 0, bottom: 3 },
            },
          },
          y: {
            type: "linear",
            min: 0,
            max: p.yMax,
            afterBuildTicks: (s: any) => {
              s.ticks = priceTicks.map((v) => ({ value: v }));
            },
            afterFit: (s: any) => {
              s.width = p.yWidth;
            },
            ticks: {
              callback: (_v: any, i: number) => priceTickLabels[i],
              color: "#a3a3a3",
              font: { family: FONT, size: 8 },
              padding: 4,
              autoSkip: false,
            },
            grid: { color: "#efefef", drawTicks: false },
            border: { display: false },
            title: {
              display: true,
              text: "Price/m²",
              color: "#555555",
              font: { family: FONT, size: 8.5 },
              padding: { top: 15, bottom: 0 },
            },
          },
        },
      },
    });
    return () => chart.destroy();
  }, []);
  return (
    <canvas
      ref={ref}
      width={p.width}
      height={p.height}
      style={{ position: "absolute", left: p.left, top: p.top, width: p.width, height: p.height }}
    />
  );
}

export default function App() {
  return (
    <div
      style={{
        position: "absolute",
        left: 0,
        top: 0,
        width: 657,
        height: 663,
        background: "#ffffff",
        overflow: "hidden",
      }}
    >
      <Panel
        left={0}
        top={0}
        width={340}
        height={320}
        padTop={7}
        padRight={5}
        yWidth={50}
        columns={[...clinicalOfficesColumns, ...clinicalOfficesCoreColumns, ...clinicalOfficesEdgeColumns]}
        trendX={clinicalOfficesTrendX}
        trendY={clinicalOfficesTrendY}
        color={C_LIGHTGREEN}
        xMin={-0.22}
        xMax={4.61}
        yMax={43.4}
        xTicks={clinicalOfficesTicks}
        xLabels={clinicalOfficesTickLabels}
        title="Scl Clinical Offices"
      />
      <Panel
        left={330}
        top={0}
        width={327}
        height={320}
        padTop={7}
        padRight={0}
        yWidth={50}
        columns={[...medClinicsColumns, ...medClinicsCoreColumns, ...medClinicsEdgeColumns]}
        trendX={medClinicsTrendX}
        trendY={medClinicsTrendY}
        color={C_GOLD}
        xMin={-0.31}
        xMax={4.79}
        yMax={43.4}
        xTicks={medClinicsTicks}
        xLabels={medClinicsTickLabels}
        title="Scl Med Clinics"
      />
      <Panel
        left={0}
        top={320}
        width={340}
        height={320}
        padTop={13}
        padRight={5}
        yWidth={45}
        columns={bikeRoutesColumns}
        trendX={bikeRoutesTrendX}
        trendY={bikeRoutesTrendY}
        color={C_GREEN}
        xMin={-0.57}
        xMax={6.96}
        yMax={42.5}
        xTicks={bikeRoutesTicks}
        xLabels={bikeRoutesTickLabels}
        title="Wgh Bike Routes"
      />
      <Panel
        left={330}
        top={320}
        width={327}
        height={320}
        padTop={13}
        padRight={0}
        yWidth={50}
        columns={brtColumns}
        trendX={brtTrendX}
        trendY={brtTrendY}
        color={C_MAUVE}
        xMin={-0.68}
        xMax={10.62}
        yMax={42.5}
        xTicks={brtTicks}
        xLabels={brtTickLabels}
        title="Wgh BRT"
      />
      {legendLabels.map((label, i) => (
        <div
          key={label}
          style={{
            position: "absolute",
            left: legendLefts[i],
            top: 648,
            height: 12,
            display: "flex",
            alignItems: "center",
            fontFamily: FONT,
            fontSize: 8.5,
            color: "#777777",
            whiteSpace: "nowrap",
          }}
        >
          <span
            style={{
              display: "inline-block",
              width: 9,
              height: 8,
              background: legendColors[i],
              marginRight: 6,
            }}
          />
          {label}
        </div>
      ))}
    </div>
  );
}
